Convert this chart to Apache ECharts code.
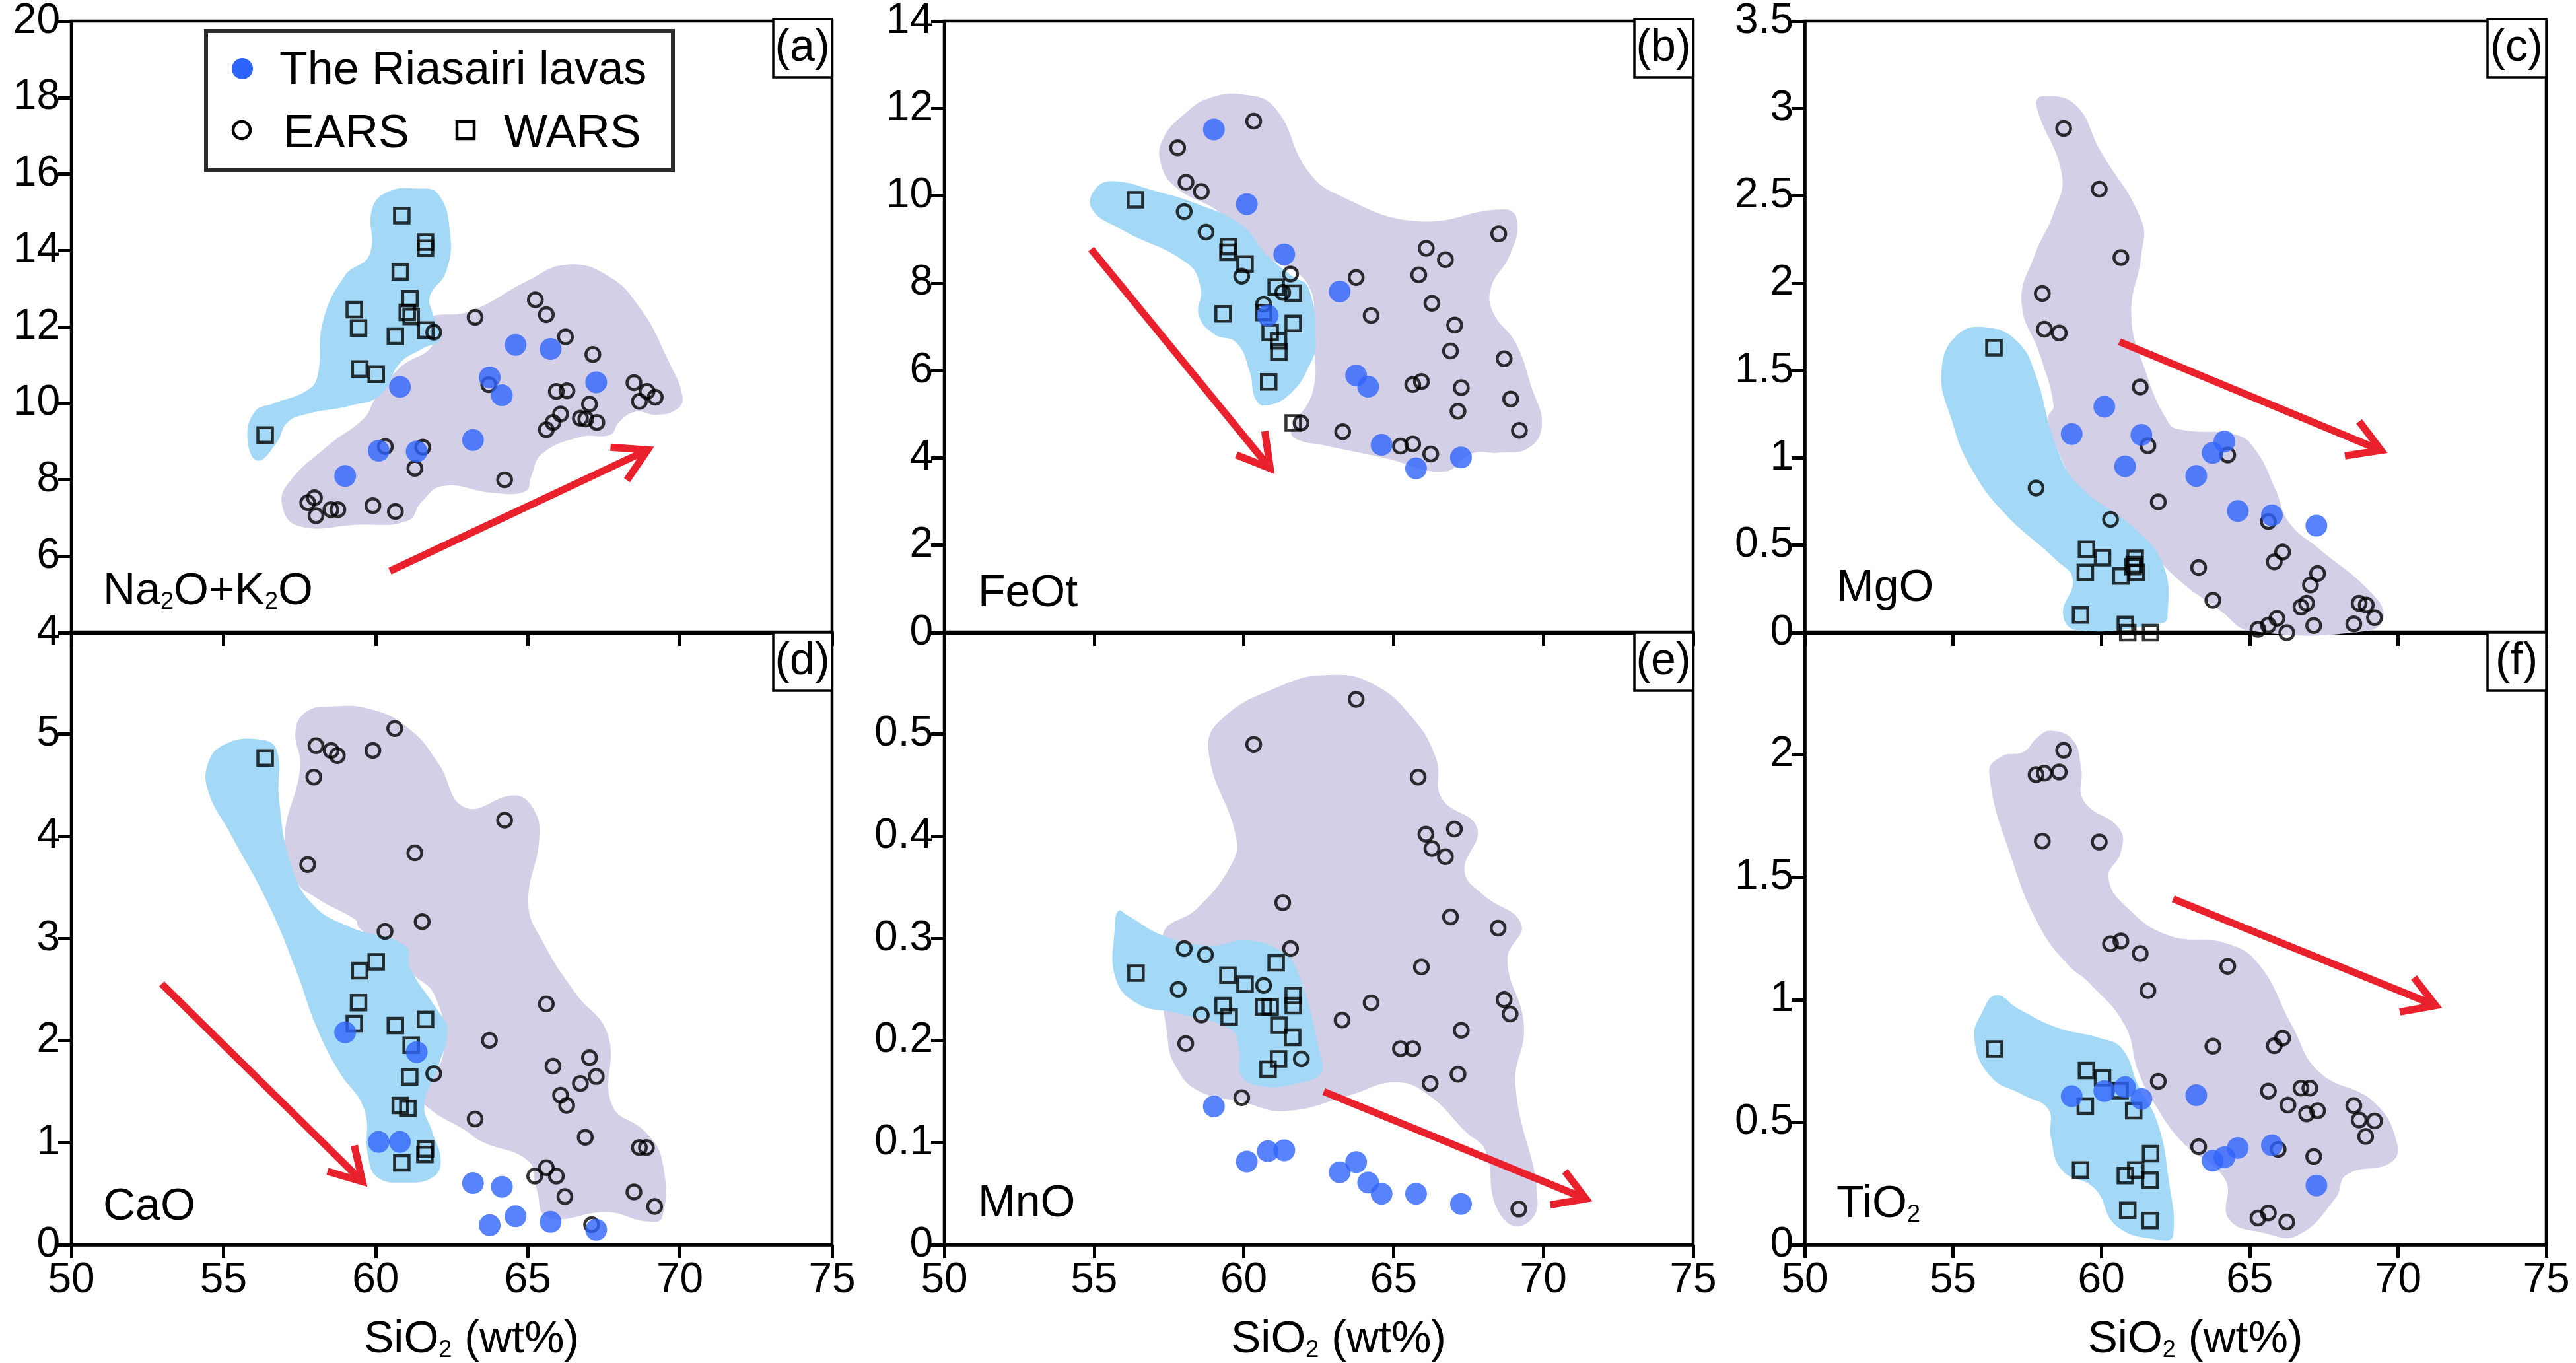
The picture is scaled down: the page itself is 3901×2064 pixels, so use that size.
<!DOCTYPE html>
<html><head><meta charset="utf-8">
<style>html,body{margin:0;padding:0;background:#fff}#c{width:3901px;height:2064px}</style>
<script src="https://cdn.jsdelivr.net/npm/echarts@6/dist/echarts.min.js"></script>
</head><body><div id="c"></div>
<script>
// ---------- data ----------
const seriesNames = ['The Riasairi lavas','EARS','WARS'];
const xTicks = {min:50,max:75,step:5};
const lavasSiO2 = [59.0,60.1,60.8,61.35,63.2,63.75,64.15,64.6,65.75,67.25];
const lavasA = [8.10,8.76,10.43,8.74,9.04,10.68,10.21,11.53,11.42,10.55];
const lavasB = [11.52,9.81,7.26,8.66,7.81,5.89,5.63,4.30,3.76,4.01];
const lavasC = [1.137,1.293,0.952,1.132,0.897,1.029,1.094,0.696,0.672,0.612];
const lavasD = [2.08,1.007,1.007,1.887,0.604,0.192,0.568,0.279,0.224,0.147];
const lavasE = [0.1355,0.0815,0.0916,0.0925,0.071,0.081,0.061,0.05,0.05,0.04];
const lavasF = [0.606,0.627,0.643,0.595,0.61,0.343,0.357,0.395,0.406,0.242];

const earsA = [[57.77,7.40],[57.99,7.53],[58.04,7.06],[58.53,7.22],[58.76,7.22],[59.91,7.32],[60.65,7.17],[60.32,8.87],[61.55,8.85],[61.29,8.30],[61.91,11.86],[63.27,12.25],[64.24,8.0],[63.72,10.49],[65.25,12.71],[65.61,12.32],[66.24,11.74],[67.14,11.28],[65.94,10.31],[66.29,10.33],[67.03,9.98],[66.08,9.72],[65.83,9.50],[65.61,9.31],[66.73,9.61],[66.91,9.59],[67.27,9.5],[68.49,10.54],[68.92,10.31],[69.19,10.16],[68.67,10.05]];
const earsB = [[57.79,11.10],[60.33,11.71],[58.07,10.31],[58.58,10.10],[58.01,9.64],[58.74,9.17],[59.93,8.16],[61.56,8.21],[60.66,7.52],[61.30,7.79],[63.75,8.13],[64.25,7.26],[65.84,8.19],[66.09,8.80],[66.73,8.54],[66.28,7.54],[67.04,7.04],[66.90,6.45],[68.51,9.13],[68.69,6.27],[67.26,5.61],[65.93,5.75],[65.64,5.68],[67.15,5.07],[68.91,5.35],[69.20,4.63],[61.91,4.80],[63.30,4.60],[65.23,4.27],[65.64,4.32],[66.24,4.09]];
const earsC = [[58.73,2.886],[59.93,2.538],[60.66,2.147],[58.01,1.941],[58.08,1.737],[58.58,1.715],[61.31,1.406],[61.57,1.070],[64.26,1.017],[57.80,0.828],[61.92,0.748],[60.31,0.648],[65.63,0.636],[66.11,0.461],[65.83,0.405],[63.28,0.372],[67.29,0.338],[67.05,0.273],[63.76,0.185],[66.92,0.168],[66.73,0.146],[68.69,0.168],[68.93,0.158],[69.21,0.086],[67.16,0.041],[68.51,0.050],[65.92,0.082],[65.63,0.043],[65.28,0.019],[66.25,0]];
const earsD = [[60.63,5.055],[58.04,4.886],[58.54,4.84],[58.74,4.79],[59.91,4.84],[57.97,4.58],[64.24,4.158],[61.29,3.837],[57.77,3.723],[61.53,3.164],[60.31,3.068],[65.61,2.358],[63.74,2.001],[67.03,1.832],[65.83,1.749],[61.91,1.676],[67.25,1.648],[66.73,1.58],[66.08,1.465],[66.28,1.364],[63.27,1.232],[66.89,1.053],[68.67,0.952],[68.90,0.952],[65.61,0.755],[65.23,0.673],[65.94,0.673],[66.22,0.472],[68.49,0.517],[69.17,0.375],[67.10,0.197]];
const earsE = [[63.75,0.534],[60.33,0.490],[65.82,0.458],[66.08,0.402],[67.03,0.407],[66.28,0.388],[66.73,0.380],[61.30,0.335],[66.90,0.321],[68.49,0.310],[58.01,0.290],[61.56,0.290],[58.72,0.284],[65.93,0.272],[60.66,0.254],[57.81,0.250],[68.69,0.240],[64.25,0.237],[68.89,0.226],[58.58,0.225],[63.28,0.220],[67.26,0.210],[58.06,0.197],[65.23,0.192],[65.64,0.192],[61.92,0.182],[67.15,0.167],[66.22,0.158],[59.93,0.144],[69.18,0.035]];
const earsF = [[58.73,2.017],[57.80,1.918],[58.08,1.924],[58.58,1.929],[58.01,1.647],[59.93,1.643],[60.66,1.239],[60.31,1.228],[61.31,1.188],[64.26,1.136],[61.57,1.037],[66.11,0.843],[65.83,0.812],[63.76,0.810],[61.92,0.667],[65.63,0.627],[66.73,0.639],[67.03,0.639],[66.29,0.570],[67.29,0.547],[66.92,0.534],[68.51,0.568],[68.69,0.509],[69.21,0.505],[68.91,0.442],[65.96,0.389],[63.28,0.400],[67.16,0.360],[65.28,0.109],[65.63,0.130],[66.25,0.093]];

const warsA = [[56.37,9.17],[60.86,14.91],[61.64,14.22],[61.64,14.06],[60.81,13.44],[61.13,12.74],[59.30,12.45],[59.44,11.97],[61.04,12.38],[61.17,12.27],[60.65,11.76],[61.65,11.92],[59.48,10.90],[60.02,10.76]];
const warsB = [[56.38,9.91],[59.49,8.84],[59.47,8.71],[60.04,8.44],[61.08,7.91],[61.65,7.77],[59.31,7.30],[60.66,7.33],[61.65,7.08],[60.88,6.87],[61.16,6.68],[61.17,6.42],[60.83,5.74],[61.65,4.80]];
const warsC = [[56.38,1.631],[59.50,0.477],[60.04,0.429],[61.14,0.425],[61.11,0.389],[61.07,0.377],[59.46,0.345],[60.66,0.324],[61.18,0.345],[59.30,0.101],[60.81,0.046],[60.89,0],[61.66,0]];
const warsD = [[56.37,4.767],[60.02,2.77],[59.48,2.683],[59.44,2.372],[59.30,2.166],[60.65,2.147],[61.64,2.207],[61.17,1.955],[61.12,1.644],[60.81,1.364],[61.06,1.337],[61.64,0.939],[61.62,0.884],[60.86,0.801]];
const warsE = [[56.40,0.266],[59.47,0.264],[60.04,0.255],[61.08,0.276],[59.31,0.234],[59.51,0.223],[60.66,0.233],[60.88,0.233],[61.65,0.244],[61.65,0.234],[61.17,0.215],[61.63,0.203],[61.16,0.182],[60.81,0.172]];
const warsF = [[56.40,0.799],[59.50,0.711],[60.04,0.681],[60.63,0.629],[59.46,0.566],[61.09,0.547],[61.66,0.372],[61.16,0.305],[59.30,0.305],[60.81,0.282],[61.64,0.263],[60.89,0.141],[61.64,0.099]];

const earsFieldA = [[57.46,6.79],[56.92,7.37],[57.19,7.97],[58.45,8.90],[59.62,9.61],[59.98,10.11],[60.79,10.93],[61.87,11.53],[61.69,12.19],[63.13,12.41],[64.93,13.18],[66.28,13.63],[67.63,13.34],[68.71,12.47],[69.60,11.15],[70.09,10.16],[69.87,9.83],[69.24,9.70],[68.53,9.78],[67.99,9.50],[67.72,9.18],[66.73,9.12],[65.47,8.68],[65.11,8.08],[64.93,7.70],[63.85,7.66],[62.23,7.84],[61.51,7.42],[61.06,6.93],[59.35,6.82]];
const warsFieldA = [[56.12,8.50],[55.79,9.07],[56.03,9.78],[56.65,10.0],[57.73,10.33],[58.09,10.71],[58.27,12.14],[58.99,13.34],[59.80,13.89],[59.89,15.10],[60.43,15.54],[61.33,15.62],[62.05,15.48],[62.45,14.44],[62.32,13.45],[61.78,12.79],[61.87,12.36],[62.14,11.70],[61.51,11.42],[60.79,11.04],[60.16,10.22],[59.17,9.94],[57.73,9.72],[57.10,9.50],[56.74,8.96]];
const earsFieldB = [[59.93,12.32],[61.03,12.02],[62.13,10.58],[63.22,10.0],[65.78,9.42],[68.71,9.69],[69.13,9.42],[68.89,8.66],[68.25,7.89],[68.34,7.31],[69.07,6.64],[69.62,5.59],[69.95,4.77],[69.53,4.24],[68.53,4.12],[67.61,4.10],[66.70,3.69],[64.69,4.0],[62.67,4.29],[61.76,4.43],[61.58,4.63],[62.31,5.54],[62.31,6.74],[62.13,7.98],[60.66,8.66],[59.20,9.62],[57.74,10.19],[57.22,10.77],[57.33,11.34],[58.10,11.92],[58.83,12.23]];
const warsFieldB = [[55.72,10.33],[55.08,10.19],[54.92,9.71],[55.91,9.23],[58.10,8.46],[58.56,7.89],[58.50,7.26],[59.02,6.83],[59.75,6.64],[60.20,5.97],[60.39,5.35],[60.75,5.20],[61.58,5.49],[62.22,6.16],[62.40,6.64],[62.16,7.89],[61.58,8.18],[60.75,8.66],[59.93,9.33],[58.47,9.81],[57.0,10.12]];
const earsFieldC = [[58.03,3.07],[59.13,3.02],[59.96,2.76],[61.35,2.36],[61.35,2.16],[61.01,1.82],[61.44,1.52],[62.27,1.20],[62.73,1.16],[64.58,1.13],[65.22,1.04],[65.87,0.82],[66.33,0.63],[67.34,0.48],[69.0,0.245],[69.52,0.10],[69.0,0.01],[65.04,0.01],[64.02,0.125],[62.36,0.34],[61.07,0.60],[59.23,0.84],[58.49,1.06],[58.21,1.23],[58.39,1.30],[57.93,1.59],[57.31,1.89],[57.75,2.16],[58.39,2.40],[58.67,2.62],[57.80,3.02]];
const warsFieldC = [[56.27,1.744],[55.17,1.708],[54.61,1.492],[54.98,1.204],[55.54,0.964],[56.64,0.70],[58.49,0.413],[59.04,0.305],[58.71,0.10],[59.23,0.012],[62.0,0.053],[62.23,0.089],[62.08,0.389],[61.07,0.604],[59.23,0.844],[58.49,1.06],[57.75,1.492],[57.20,1.66]];
const earsFieldD = [[58.45,5.27],[59.89,5.24],[61.15,5.04],[62.05,4.72],[62.95,4.28],[64.57,4.40],[65.20,4.26],[65.38,3.98],[65.02,3.34],[65.47,2.98],[66.55,2.47],[67.63,2.06],[67.77,1.37],[68.88,1.10],[69.42,0.82],[69.42,0.27],[68.88,0.23],[67.63,0.32],[65.65,0.27],[65.29,0.55],[65.02,0.82],[63.49,1.01],[62.95,1.12],[61.78,1.33],[61.51,1.47],[62.23,1.88],[61.96,2.43],[61.15,2.66],[59.44,3.11],[59.35,3.18],[58.09,3.39],[57.37,3.57],[57.01,3.98],[57.52,4.67],[57.37,5.04],[57.73,5.22]];
const warsFieldD = [[55.04,4.90],[56.12,4.95],[56.74,4.85],[56.83,4.35],[57.19,3.75],[57.91,3.34],[59.17,3.11],[60.97,2.93],[61.15,2.70],[62.05,2.29],[62.36,2.11],[62.05,1.74],[61.60,1.37],[61.87,1.10],[62.14,0.82],[61.87,0.66],[60.97,0.61],[60.07,0.66],[59.75,0.87],[59.62,1.33],[58.81,1.69],[58.09,2.11],[57.37,2.70],[56.47,3.34],[55.22,4.03],[54.50,4.44],[54.50,4.72]];
const earsFieldE = [[62.86,0.558],[64.32,0.549],[65.60,0.517],[66.42,0.476],[66.61,0.437],[67.79,0.408],[67.37,0.366],[67.98,0.343],[69.26,0.314],[68.80,0.279],[69.35,0.215],[69.07,0.156],[69.81,0.041],[69.17,0.018],[68.43,0.037],[68.07,0.092],[67.43,0.110],[66.15,0.147],[65.05,0.159],[63.59,0.147],[61.39,0.131],[59.93,0.140],[58.47,0.151],[57.74,0.174],[57.46,0.201],[57.28,0.302],[58.47,0.330],[59.56,0.371],[59.75,0.398],[58.83,0.481],[59.20,0.513],[61.21,0.547]];
const warsFieldE = [[55.82,0.327],[55.69,0.311],[55.72,0.261],[56.46,0.236],[57.74,0.227],[59.56,0.211],[59.84,0.192],[59.93,0.165],[60.66,0.155],[61.76,0.158],[62.55,0.167],[62.58,0.183],[61.76,0.270],[61.21,0.288],[60.11,0.298],[58.83,0.293],[57.37,0.302],[56.09,0.323]];
const earsFieldF = [[58.30,2.097],[59.04,2.059],[59.32,1.945],[59.41,1.811],[60.61,1.697],[60.66,1.602],[60.24,1.497],[60.89,1.373],[62.27,1.262],[64.21,1.230],[65.31,1.144],[66.42,0.896],[67.34,0.705],[69.19,0.582],[69.98,0.41],[69.74,0.334],[68.27,0.286],[67.90,0.191],[66.61,0.038],[65.50,0.048],[64.30,0.105],[64.17,0.267],[62.73,0.419],[61.81,0.572],[61.25,0.705],[60.79,0.896],[59.59,1.068],[58.86,1.144],[57.93,1.296],[57.01,1.563],[56.22,1.926],[56.64,1.992],[57.38,2.011],[57.84,2.069]];
const warsFieldF = [[56.46,1.018],[56.0,0.953],[55.72,0.839],[56.27,0.686],[57.38,0.61],[58.21,0.553],[58.30,0.439],[58.67,0.305],[59.78,0.229],[60.52,0.076],[62.0,0.019],[62.42,0.038],[62.27,0.267],[61.90,0.496],[61.25,0.648],[60.70,0.80],[59.96,0.843],[58.49,0.887],[57.20,0.963]];

// trend arrows: start, tip, barb, barb
const arrowA = [[60.47,5.61],[68.94,8.78],[67.72,8.85],[68.26,7.99]];
const arrowB = [[54.90,8.78],[60.88,3.76],[60.70,4.61],[59.75,4.07]];
const arrowC = [[60.61,1.665],[69.43,1.043],[68.69,1.209],[68.21,1.012]];
const arrowD = [[52.97,2.555],[59.57,0.618],[59.30,0.971],[58.42,0.719]];
const arrowE = [[62.67,0.150],[71.42,0.045],[70.72,0.072],[70.23,0.039]];
const arrowF = [[62.42,1.411],[71.27,0.976],[70.54,1.09],[70.06,0.95]];

const FONT = 'Liberation Sans';
const C = {ears:'#d2cfe7',wars:'#a3d9f6',lava:'#2f64fb',arrow:'#e8212c',ink:'#000'};
const colX = [108,1430,2733], colW = [1152,1134,1123];
const rowY = [27,957], rowH = 931;

const panels = [
 {tag:'(a)',col:0,row:0,y:[4,20,2],lav:lavasA,ear:earsA,war:warsA,ef:earsFieldA,wf:warsFieldA,arr:arrowA,label:'{m|Na}{s|2}{m|O+K}{s|2}{m|O}',lx:156,ly:890},
 {tag:'(b)',col:1,row:0,y:[0,14,2],lav:lavasB,ear:earsB,war:warsB,ef:earsFieldB,wf:warsFieldB,arr:arrowB,label:'{m|FeOt}',lx:1481,ly:893},
 {tag:'(c)',col:2,row:0,y:[0,3.5,0.5],lav:lavasC,ear:earsC,war:warsC,ef:earsFieldC,wf:warsFieldC,arr:arrowC,label:'{m|MgO}',lx:2781,ly:885},
 {tag:'(d)',col:0,row:1,y:[0,6,1],lav:lavasD,ear:earsD,war:warsD,ef:earsFieldD,wf:warsFieldD,arr:arrowD,label:'{m|CaO}',lx:156,ly:1822},
 {tag:'(e)',col:1,row:1,y:[0,0.6,0.1],lav:lavasE,ear:earsE,war:warsE,ef:earsFieldE,wf:warsFieldE,arr:arrowE,label:'{m|MnO}',lx:1481,ly:1817},
 {tag:'(f)',col:2,row:1,y:[0,2.5,0.5],lav:lavasF,ear:earsF,war:warsF,ef:earsFieldF,wf:warsFieldF,arr:arrowF,label:'{m|TiO}{s|2}',lx:2781,ly:1818}
];

const richMain = {
 m:{fontFamily:FONT,fontSize:68,lineHeight:80,verticalAlign:'bottom',color:C.ink},
 s:{fontFamily:FONT,fontSize:36,lineHeight:22,verticalAlign:'bottom',color:C.ink}
};
const richAxis = {
 m:{fontFamily:FONT,fontSize:68,lineHeight:80,verticalAlign:'bottom',color:C.ink},
 s:{fontFamily:FONT,fontSize:36,lineHeight:22,verticalAlign:'bottom',color:C.ink}
};

const grids=[],xAxes=[],yAxes=[],series=[],graphics=[];
const axisLine = w => ({show:true,onZero:false,lineStyle:{color:C.ink,width:w}});

function field(pts,color,i){
 return {type:'custom',coordinateSystem:'cartesian2d',xAxisIndex:i,yAxisIndex:i,silent:true,clip:false,z:2,
  data:pts,encode:{x:0,y:1},
  renderItem:(p,api)=>{
   if(p.dataIndex!==0) return null;
   return {type:'polygon',shape:{points:pts.map(q=>api.coord(q)),smooth:0.45},style:{fill:color,stroke:null}};
  }};
}
function arrow(a,i){
 return {type:'custom',coordinateSystem:'cartesian2d',xAxisIndex:i,yAxisIndex:i,silent:true,clip:false,z:6,
  data:a,encode:{x:0,y:1},
  renderItem:(p,api)=>{
   if(p.dataIndex!==0) return null;
   const c=a.map(q=>api.coord(q));
   const st={stroke:C.arrow,lineWidth:11,fill:null,lineJoin:'miter',lineCap:'butt',miterLimit:10};
   return {type:'group',children:[
    {type:'polyline',shape:{points:[c[0],c[1]]},style:st},
    {type:'polyline',shape:{points:[c[2],c[1],c[3]]},style:st}]};
  }};
}
panels.forEach((P,i)=>{
 const left=colX[P.col],top=rowY[P.row],w=colW[P.col];
 grids.push({left,top,width:w,height:rowH,show:true,borderColor:C.ink,borderWidth:4.5,backgroundColor:'transparent'});
 xAxes.push({type:'value',gridIndex:i,min:xTicks.min,max:xTicks.max,interval:xTicks.step,position:'bottom',
  axisLine:axisLine(P.row===0?6:4.5),splitLine:{show:false},
  axisTick:{show:true,length:20,lineStyle:{color:C.ink,width:5}},
  axisLabel:{show:P.row===1,fontFamily:FONT,fontSize:64,color:C.ink,margin:22},
  name:P.row===1?'{m|SiO}{s|2}{m| (wt%)}':'',nameLocation:'middle',nameGap:98,
  nameTextStyle:{rich:richAxis,padding:[0,0,0,60]}});
 yAxes.push({type:'value',gridIndex:i,min:P.y[0],max:P.y[1],interval:P.y[2],position:'left',
  axisLine:axisLine(4.5),splitLine:{show:false},
  axisTick:{show:true,length:20,lineStyle:{color:C.ink,width:5}},
  axisLabel:{fontFamily:FONT,fontSize:64,color:C.ink,margin:17,showMaxLabel:P.row===0}});
 series.push(field(P.ef,C.ears,i),field(P.wf,C.wars,i));
 series.push({name:seriesNames[1],type:'scatter',xAxisIndex:i,yAxisIndex:i,clip:false,z:3,symbol:'circle',symbolSize:21,data:P.ear,
  itemStyle:{color:'rgba(0,0,0,0)',borderColor:C.ink,borderWidth:4.5}});
 series.push({name:seriesNames[2],type:'scatter',xAxisIndex:i,yAxisIndex:i,clip:false,z:3,symbol:'rect',symbolSize:22,data:P.war,
  itemStyle:{color:'rgba(0,0,0,0)',borderColor:C.ink,borderWidth:4.5}});
 series.push({name:seriesNames[0],type:'scatter',xAxisIndex:i,yAxisIndex:i,clip:false,z:4,symbol:'circle',symbolSize:33,
  data:lavasSiO2.map((x,k)=>[x,P.lav[k]]),itemStyle:{color:C.lava}});
 series.push(arrow(P.arr,i));
 // panel tag box
 const bx=left+w-89, by=top+(P.row===0?2:1);
 graphics.push({type:'rect',z:20,shape:{x:bx,y:by,width:89,height:88},style:{fill:'#fff',stroke:C.ink,lineWidth:3.5}});
 graphics.push({type:'text',z:21,style:{x:bx+44,y:by+44,text:P.tag,align:'center',verticalAlign:'middle',fontFamily:FONT,fontSize:68,fill:C.ink}});
 // oxide label
 graphics.push({type:'text',z:21,style:{x:P.lx,y:P.ly,text:P.label,rich:richMain,align:'left',verticalAlign:'middle'}});
});
// legend
graphics.push({type:'rect',z:20,shape:{x:312,y:47,width:707,height:211},style:{fill:'#fff',stroke:'#2b2b2b',lineWidth:6}});
graphics.push({type:'circle',z:21,shape:{cx:367,cy:104,r:16},style:{fill:C.lava}});
graphics.push({type:'circle',z:21,shape:{cx:366,cy:197,r:13},style:{fill:'#fff',stroke:C.ink,lineWidth:4.5}});
graphics.push({type:'rect',z:21,shape:{x:692,y:184,width:26,height:26},style:{fill:'#fff',stroke:C.ink,lineWidth:4.5}});
[[seriesNames[0],423,108],[seriesNames[1],429,204],[seriesNames[2],763,204]].forEach(t=>{
 graphics.push({type:'text',z:21,style:{x:t[1],y:t[2],text:t[0],align:'left',verticalAlign:'middle',fontFamily:FONT,fontSize:70,fill:C.ink}});
});

const chart=echarts.init(document.getElementById('c'),null,{renderer:'canvas',width:3901,height:2064});
chart.setOption({animation:false,backgroundColor:'#fff',grid:grids,xAxis:xAxes,yAxis:yAxes,series,graphic:graphics});
</script></body></html>
